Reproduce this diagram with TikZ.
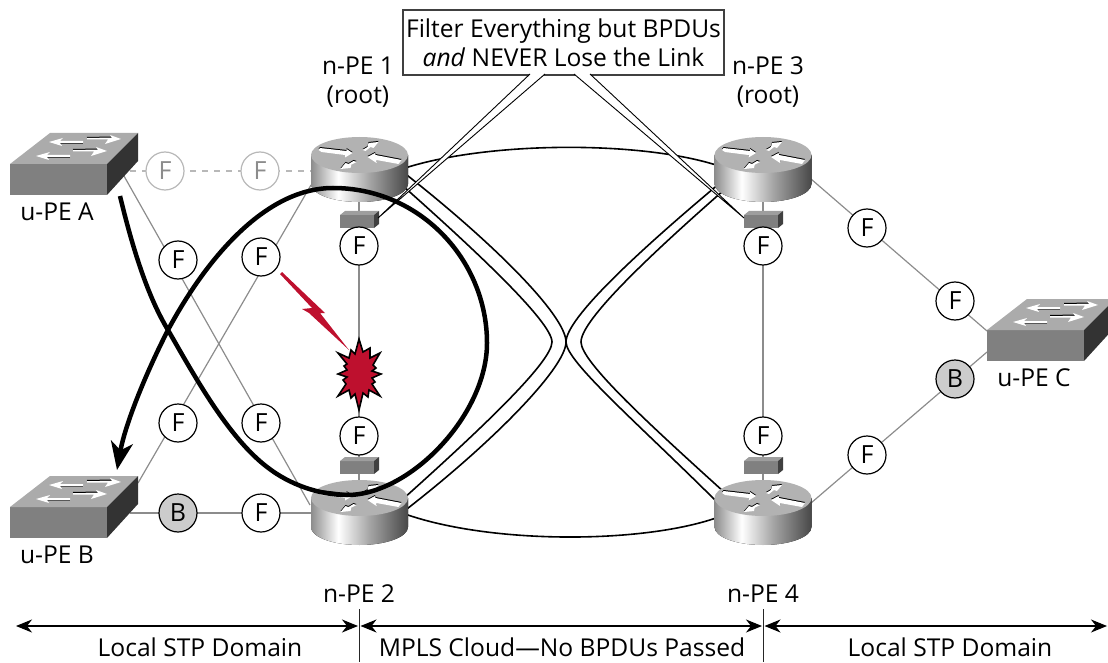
\documentclass[tikz,border=0pt]{standalone}
\usepackage{fontspec}
\setmainfont{Open Sans}
\usetikzlibrary{arrows.meta}
\definecolor{crimson}{RGB}{190,16,46}
\pgfdeclarehorizontalshading{routerside}{100bp}{color(0bp)=(black!45); color(25bp)=(black!45); color(39bp)=(white); color(55bp)=(black!35); color(75bp)=(black!72); color(100bp)=(black!72)}
\tikzset{
  router/.pic={
    \fill[shading=routerside] (-48.5,0) -- (-48.5,29) .. controls (-48.5,39) and (-26.8,47) .. (0,47) .. controls (26.8,47) and (48.5,39) .. (48.5,29) -- (48.5,0) -- cycle;
    \fill[black!30] (0,0) ellipse [x radius=48.5, y radius=18];
    \foreach \dy/\col in {-1/black,0/white} {
      \fill[\col,yshift=\dy*-1pt] (-41,-5) -- (-39.5,-7) -- (-13,-4) -- (-13,-6) -- (-7,-2) -- (-14.5,2.5) -- (-14.5,0) -- (-38,-3) -- cycle;
      \fill[\col,yshift=\dy*-1pt] (8,2) -- (15.5,-2) -- (16,0) -- (42,5) -- (39,9) -- (17,5) -- (17,8) -- cycle;
      \fill[\col,yshift=\dy*-1pt] (3,-5) -- (8,-8) -- (9,-12) -- (19,-13) -- (14,-7) -- (11,-8) -- (6,-4) -- cycle;
      \fill[\col,yshift=\dy*-1pt] (-3,7) -- (-8,9.5) -- (-9,13) -- (-19,14) -- (-14,8) -- (-11,9) -- (-6,6) -- cycle;
    }
  },
  upeswitch/.pic={
    \fill[black!50] (0,0) rectangle (97,31);
    \fill[black!33] (0,0) -- (40,-31) -- (128,-31) -- (97,0) -- cycle;
    \fill[black!80] (97,0) -- (128,-31) -- (128,-3) -- (97,31) -- cycle;
    \foreach \tx/\ty in {39/-22,26/-8} {
      \draw[black!75,line width=1pt] (\tx+9,\ty+1.5) -- (\tx+34,\ty+1.5);
      \fill[white] (\tx,\ty) -- (\tx+14,\ty-4) -- (\tx+11,\ty-1) -- (\tx+34,\ty-1) -- (\tx+34,\ty+1) -- (\tx+11,\ty+1) -- (\tx+13,\ty+4) -- cycle;
    }
    \foreach \tx/\ty in {111/-25,97/-13} {
      \draw[black,line width=1pt] (\tx-34,\ty-1.5) -- (\tx-9,\ty-2);
      \fill[white] (\tx,\ty) -- (\tx-11,\ty-4) -- (\tx-9,\ty-1) -- (\tx-34,\ty-1) -- (\tx-34,\ty+0.5) -- (\tx-13,\ty+0.5) -- (\tx-16,\ty+5) -- cycle;
    }
  },
  filterbox/.pic={
    \fill[black!50] (0,0) rectangle (34,13);
    \fill[black!38] (0,0) -- (5,-4) -- (39,-4) -- (34,0) -- cycle;
    \fill[black!75] (34,0) -- (39,-4) -- (39,9) -- (34,13) -- cycle;
  },
  lbl/.style={font=\fontsize{24.6}{29}\selectfont,align=center,inner sep=0pt},
  fnode/.style={circle,draw=black,fill=white,line width=1.2pt,minimum size=38pt,inner sep=0pt,font=\fontsize{25}{25}\selectfont},
  fgray/.style={fnode,draw=black!28,text=black!45},
  bnode/.style={fnode,fill=black!20},
  wire/.style={black!45,line width=1.2pt},
  pwline/.style={black,line width=1.6pt},
  wedge/.style={draw=black,fill=white,line width=0.9pt},
  domarrow/.style={black,line width=1.2pt,{Stealth[length=16pt,width=13pt,inset=5pt]}-{Stealth[length=16pt,width=13pt,inset=5pt]}},
}
\begin{document}
\begin{tikzpicture}[x=1pt,y=-1pt]
\useasboundingbox (0,0) rectangle (1108,663);
\coordinate (aport) at (124,176);
\coordinate (bport) at (138,483);
\coordinate (cporta) at (987,331);
\coordinate (cportb) at (987,352);
\coordinate (pe1sw) at (311,185);
\coordinate (pe2nw) at (310,505);
\coordinate (pe3se) at (811,179);
\coordinate (pe4ne) at (811,503);
\draw[wire,dashed,dash pattern=on 6pt off 6pt,black!28] (130,171) -- (311,171);
\draw[wire] (aport) -- (pe2nw);
\draw[wire] (pe1sw) -- (bport);
\draw[wire] (130,513) -- (311,513);
\draw[wire] (359,202) -- (359,480);
\draw[wire] (763,202) -- (763,480);
\draw[wire] (pe3se) -- (cporta);
\draw[wire] (cportb) -- (pe4ne);
\draw[pwline] (405,168) .. controls (490,141) and (640,141) .. (716,165);
\draw[pwline] (405,514) .. controls (490,544) and (640,544) .. (716,518);
\draw[pwline] (403,172) .. controls (490,240) and (566,315) .. (566,342) .. controls (566,368) and (490,445) .. (403,512);
\draw[pwline] (403,186) .. controls (475,250) and (552,322) .. (552,342) .. controls (552,362) and (480,430) .. (403,499);
\draw[pwline] (720,183) .. controls (640,250) and (566,318) .. (566,342) .. controls (566,362) and (640,425) .. (720,505);
\draw[pwline] (724,190) .. controls (650,255) and (581,320) .. (581,342) .. controls (581,362) and (650,425) .. (724,492);
\pic (pe1) at (359.5,155) {router};
\pic (pe2) at (359.5,498) {router};
\pic (pe3) at (763,155) {router};
\pic (pe4) at (763,498) {router};
\pic (upea) at (10,164) {upeswitch};
\pic (upeb) at (10,507) {upeswitch};
\pic (upec) at (987,330) {upeswitch};
\pic (fb1) at (340,215) {filterbox};
\pic (fb2) at (340,461) {filterbox};
\pic (fb3) at (744,215) {filterbox};
\pic (fb4) at (744,461) {filterbox};
\node[lbl,draw=black!75,fill=white,line width=1.4pt,minimum width=321pt,minimum height=65pt] (callout) at (563.5,42.5) {Filter Everything but BPDUs\\\textit{and} NEVER Lose the Link};
\coordinate (fb1tip) at (378,218);
\coordinate (fb3tip) at (744,218);
\filldraw[wedge] (530,74) -- (fb1tip) -- (545,74);
\filldraw[wedge] (574,74) -- (fb3tip) -- (590,74);
\node[fgray] (fa1) at (165,171) {F};
\node[fgray] (fa2) at (260,171) {F};
\node[fnode] (f1) at (178,260) {F};
\node[fnode] (f2) at (261,257) {F};
\node[fnode] (f3) at (359,246) {F};
\node[fnode] (f4) at (178,423) {F};
\node[fnode] (f5) at (261,423) {F};
\node[fnode] (f6) at (359,436) {F};
\node[bnode] (b1) at (178,513) {B};
\node[fnode] (f7) at (261,513) {F};
\node[fnode] (f8) at (763,246) {F};
\node[fnode] (f9) at (867,228) {F};
\node[fnode] (f10) at (955,301) {F};
\node[bnode] (b2) at (955,379) {B};
\node[fnode] (f11) at (867,455) {F};
\node[fnode] (f12) at (763,436) {F};
\filldraw[draw=black,fill=crimson,line width=1.6pt,shift={(359,374)}] (0,-35) -- (4,-22) -- (11,-26) -- (11,-16) -- (21,-21) -- (14,-9) -- (17,-6) -- (13,-3) -- (22,0) -- (13,4) -- (16,8) -- (13,10) -- (21,22) -- (10,16) -- (9,23) -- (4,19) -- (0,36) -- (-4,20) -- (-8,24) -- (-10,16) -- (-21,22) -- (-13,10) -- (-16,6) -- (-12,3) -- (-21,0) -- (-12,-4) -- (-15,-8) -- (-12,-10) -- (-21,-21) -- (-10,-16) -- (-8,-24) -- (-4,-20) -- cycle;
\fill[crimson] (280,274) -- (282,272) -- (325,313) -- (320,313) -- (349,350) -- (309,313) -- (302,309) -- (312,308) -- cycle;
\draw[line width=4.5pt,-{Stealth[length=28pt,width=22pt,inset=8pt]}] (120,196) .. controls (133,250) and (148,297) .. (168,330) .. controls (195,377) and (228,437) .. (267,467) .. controls (290,485) and (320,495) .. (347,495) .. controls (410,495) and (487,415) .. (487,343) .. controls (487,260) and (420,188) .. (333,188) .. controls (260,188) and (200,270) .. (168,330) .. controls (145,375) and (125,425) .. (117,470);
\node[lbl] (lbla) at (57,212) {u-PE A};
\node[lbl] (lblb) at (57,555) {u-PE B};
\node[lbl] (lblc) at (1034,378) {u-PE C};
\node[lbl] (lbl1) at (358,82.5) {n-PE 1\\(root)};
\node[lbl] (lbl3) at (768,82.5) {n-PE 3\\(root)};
\node[lbl] (lbl2) at (359,594) {n-PE 2};
\node[lbl] (lbl4) at (763,594) {n-PE 4};
\coordinate (domleft) at (16,626);
\coordinate (domright) at (1107,626);
\coordinate (tick1a) at (359,609);
\coordinate (tick1b) at (359,662);
\coordinate (tick2a) at (763,609);
\coordinate (tick2b) at (763,662);
\draw[black!85,line width=1pt] (tick1a) -- (tick1b);
\draw[black!85,line width=1pt] (tick2a) -- (tick2b);
\draw[domarrow] (domleft) -- (358,626);
\draw[domarrow] (360.5,626) -- (762,626);
\draw[domarrow] (764.5,626) -- (domright);
\node[lbl] (dom1) at (200,647) {Local STP Domain};
\node[lbl] (dom2) at (562,647) {MPLS Cloud---No BPDUs Passed};
\node[lbl] (dom3) at (950,647) {Local STP Domain};
\end{tikzpicture}
\end{document}
